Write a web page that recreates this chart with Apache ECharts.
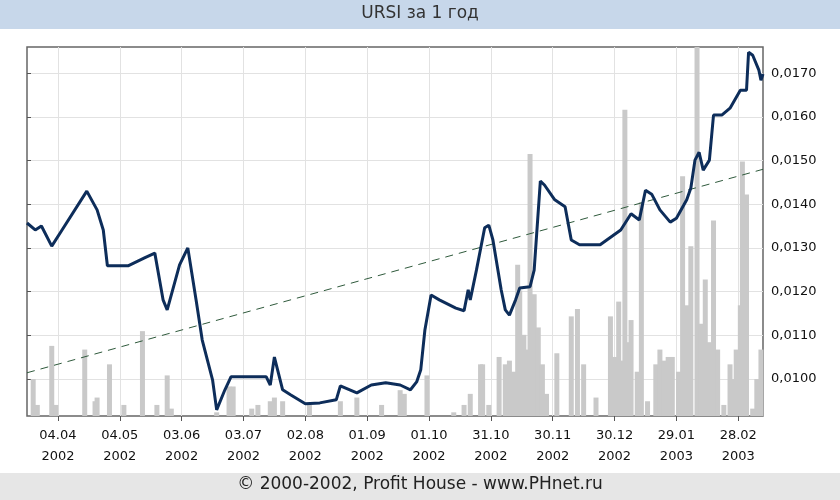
<!DOCTYPE html>
<html><head><meta charset="utf-8">
<script src="https://cdn.jsdelivr.net/npm/echarts@6/dist/echarts.min.js"></script>
<style>html,body{margin:0;padding:0;background:#fff}#c{width:840px;height:500px}</style>
</head><body><div id="c"></div>
<script>
// day offsets are counted from 20.03.2002
const tickDays = [15,45,75,105,135,165,195,225,255,285,315,345];
const tickLabels = ['04.04\n2002','04.05\n2002','03.06\n2002','03.07\n2002','02.08\n2002','01.09\n2002','01.10\n2002','31.10\n2002','30.11\n2002','30.12\n2002','29.01\n2003','28.02\n2003'];
const priceTicks = [0.010,0.011,0.012,0.013,0.014,0.015,0.016,0.017];
const lineDay = [0,4,7,12,17,29,34,37,39,49,57,62,66,68,74,78,82,85,90,92,96,99,106,116,118,120,124,128,135,142,150,152,160,167,174,181,186,189,191,193,196,200,208,212,214,215,218,222,224,226,230,232,234,237,239,244,246,249,251,256,261,264,268,278,288,293,297,300,303,307,312,315,320,322,324,326,328,331,333,337,341,346,349,350,352,355,356,357];
const lineVal = [0.01357,0.01341,0.01350,0.01304,0.01341,0.01430,0.01387,0.01341,0.01259,0.01259,0.01277,0.01288,0.01181,0.01158,0.01261,0.01300,0.01181,0.01089,0.00998,0.00929,0.00975,0.01005,0.01005,0.01005,0.00986,0.01050,0.00975,0.00963,0.00943,0.00945,0.00952,0.00984,0.00968,0.00986,0.00991,0.00986,0.00975,0.00993,0.01021,0.01112,0.01192,0.01181,0.01162,0.01156,0.01204,0.01181,0.01249,0.01346,0.01352,0.01318,0.01204,0.01158,0.01146,0.01181,0.01208,0.01211,0.01249,0.01453,0.01444,0.01410,0.01394,0.01318,0.01307,0.01307,0.01341,0.01378,0.01364,0.01432,0.01423,0.01387,0.01359,0.01368,0.01410,0.01437,0.01501,0.01519,0.01478,0.01501,0.01604,0.01604,0.01620,0.01661,0.01661,0.01748,0.01741,0.01707,0.01684,0.01698];
const volDay = [3,5,12,14,28,33,34,40,47,56,63,68,70,92,98,100,109,112,118,120,124,137,152,160,172,181,183,194,207,212,215,220,221,224,229,232,234,236,238,239,241,243,244,246,248,250,252,257,264,267,270,276,283,285,287,288,290,292,293,296,298,301,305,307,309,311,313,316,318,320,322,325,327,329,331,333,335,338,341,343,344,346,347,349,352,354,356];
const volVal = [10,3,19,3,18,4,5,14,3,23,3,11,2,1,8,8,2,3,4,5,4,3,4,5,3,7,6,11,1,3,6,14,14,3,16,14,15,12,41,34,22,18,71,33,24,14,6,17,27,29,14,5,27,16,31,15,83,20,26,12,58,4,14,18,15,16,16,12,65,30,46,100,25,37,20,53,18,3,14,10,18,30,69,60,2,10,18];
const trendDay = [0,357];
const trendVal = [0.01014,0.0148];

const chart = echarts.init(document.getElementById('c'));
chart.setOption({
  animation:false,
  graphic:[
    {type:'rect',shape:{x:0,y:0,width:840,height:29},style:{fill:'#c7d7ea'},z:-1},
    {type:'rect',shape:{x:0,y:473,width:840,height:27},style:{fill:'#e6e6e6'},z:-1},
    {type:'text',left:'center',top:5,style:{text:'URSI за 1 год',font:'17px "DejaVu Sans"',fill:'#333'}},
    {type:'text',left:'center',top:476,style:{text:'© 2000-2002, Profit House - www.PHnet.ru',font:'17px "DejaVu Sans"',fill:'#222'}}
  ],
  grid:{left:27,right:77,top:47,bottom:84,show:true,borderColor:'#666',borderWidth:1.5,backgroundColor:'#fff'},
  xAxis:{type:'value',min:0,max:357,
    axisLine:{show:false},
    axisTick:{show:true,customValues:tickDays,length:5,lineStyle:{color:'#555'}},
    axisLabel:{customValues:tickDays,color:'#111',fontSize:13,fontFamily:'DejaVu Sans',lineHeight:21,margin:9,
      formatter:v=>tickLabels[tickDays.indexOf(Math.round(v))]||''},
    splitLine:{show:true,lineStyle:{color:'#e2e2e2'}}},
  yAxis:[
    {type:'value',position:'right',min:0.00915,max:0.0176,
      axisLine:{show:false},
      axisTick:{show:true,customValues:priceTicks,length:4,lineStyle:{color:'#555'}},
      axisLabel:{customValues:priceTicks,color:'#111',fontSize:13,fontFamily:'DejaVu Sans',margin:8,
        formatter:v=>v.toFixed(4).replace('.',',')},
      splitLine:{show:true,lineStyle:{color:'#e2e2e2'}}},
    {type:'value',min:0,max:100,show:false,splitLine:{show:false}}
  ],
  series:[
    {type:'bar',yAxisIndex:1,barWidth:5,itemStyle:{color:'#c9c9c9'},
      data:volDay.map((d,i)=>[d,volVal[i]])},
    {type:'line',showSymbol:false,lineStyle:{color:'#2f5a3c',width:1,type:[8,6]},
      data:trendDay.map((d,i)=>[d,trendVal[i]])},
    {type:'line',showSymbol:false,lineStyle:{color:'#0d2d5a',width:3},
      data:lineDay.map((d,i)=>[d,lineVal[i]])}
  ]
});
</script></body></html>
